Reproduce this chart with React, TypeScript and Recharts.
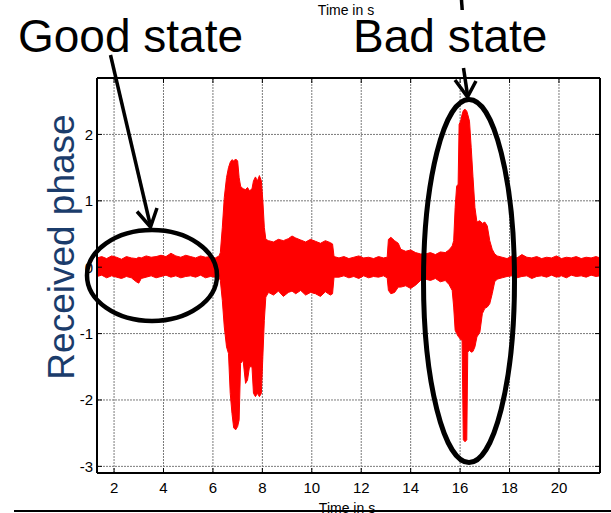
import React from 'react';
import { ComposedChart, Area, XAxis, YAxis, CartesianGrid, ReferenceLine } from 'recharts';

// Envelope of the received-phase trace (time in s, upper / lower edge)
const time = [
  1.31, 1.5, 1.7, 1.9, 2.1, 2.3, 2.5, 2.7, 2.9, 3.0, 3.1, 3.3, 3.5, 3.7, 3.9, 4.1, 4.3, 4.5, 4.7, 4.9, 5.1, 5.3, 5.5, 5.7, 5.9, 6.1, 6.25,
  6.30, 6.38, 6.46, 6.55, 6.63, 6.70, 6.77, 6.84, 6.92, 7.00, 7.06, 7.12, 7.22, 7.32, 7.40, 7.48, 7.58, 7.64, 7.72, 7.80, 7.88, 7.96, 8.02, 8.08, 8.14,
  8.25, 8.45, 8.65, 8.85, 9.05, 9.2, 9.35, 9.55, 9.75, 9.95, 10.15, 10.35, 10.55, 10.75, 10.84, 10.9,
  11.1, 11.3, 11.5, 11.7, 11.9, 12.1, 12.3, 12.5, 12.7, 12.9, 13.05,
  13.1, 13.2, 13.35, 13.5, 13.6, 13.8, 14.0, 14.2, 14.4,
  14.6, 14.8, 15.0, 15.2, 15.4, 15.55, 15.68,
  15.74, 15.80, 15.86, 15.92, 15.96, 16.02, 16.08, 16.13, 16.20, 16.27, 16.31, 16.38, 16.45, 16.52, 16.60, 16.68, 16.80, 16.90, 17.00, 17.10, 17.20, 17.30, 17.40, 17.50,
  17.7, 17.9, 18.1, 18.3, 18.5, 18.7, 18.9, 19.1, 19.3, 19.5, 19.7, 19.9, 20.1, 20.3, 20.5, 20.7, 20.9, 21.1, 21.3, 21.5, 21.66,
];
const upper = [
  0.14, 0.16, 0.13, 0.17, 0.15, 0.12, 0.16, 0.14, 0.13, 0.15, 0.14, 0.17, 0.15, 0.16, 0.18, 0.16, 0.21, 0.17, 0.15, 0.18, 0.16, 0.14, 0.17, 0.15, 0.16, 0.14, 0.17,
  0.22, 0.6, 1.05, 1.35, 1.5, 1.58, 1.62, 1.6, 1.63, 1.6, 1.35, 1.22, 1.18, 1.17, 1.2, 1.15, 1.18, 1.3, 1.36, 1.3, 1.38, 1.3, 1.0, 0.6, 0.42,
  0.4, 0.38, 0.42, 0.4, 0.43, 0.47, 0.44, 0.41, 0.38, 0.42, 0.39, 0.36, 0.4, 0.37, 0.35, 0.16,
  0.14, 0.16, 0.13, 0.15, 0.17, 0.14, 0.15, 0.13, 0.16, 0.14, 0.15,
  0.42, 0.45, 0.4, 0.36, 0.27, 0.24, 0.26, 0.22, 0.2,
  0.2, 0.22, 0.19, 0.23, 0.22, 0.26, 0.32,
  0.4, 0.9, 1.22, 1.25, 2.15, 2.2, 2.3, 2.36, 2.38, 2.35, 2.3, 2.2, 1.8, 1.37, 0.9, 0.68, 0.7, 0.66, 0.68, 0.62, 0.4, 0.27, 0.2, 0.17,
  0.15, 0.13, 0.17, 0.14, 0.19, 0.15, 0.14, 0.16, 0.13, 0.15, 0.14, 0.17, 0.13, 0.15, 0.14, 0.16, 0.13, 0.15, 0.14, 0.16, 0.14,
];
const lower = [
  -0.14, -0.12, -0.16, -0.13, -0.15, -0.17, -0.14, -0.16, -0.22, -0.24, -0.17, -0.15, -0.13, -0.16, -0.14, -0.12, -0.15, -0.13, -0.16, -0.14, -0.13, -0.15, -0.12, -0.16, -0.14, -0.15, -0.16,
  -0.2, -0.5, -0.9, -1.2, -1.3, -1.9, -2.2, -2.42, -2.45, -2.4, -2.3, -1.45, -1.4, -1.75, -1.7, -1.5, -1.5, -1.9, -1.95, -1.9, -1.95, -1.9, -1.35, -0.8, -0.45,
  -0.38, -0.42, -0.36, -0.44, -0.38, -0.36, -0.4, -0.35, -0.42, -0.38, -0.4, -0.44, -0.37, -0.42, -0.4, -0.15,
  -0.15, -0.13, -0.16, -0.14, -0.17, -0.13, -0.16, -0.14, -0.15, -0.13, -0.16,
  -0.35, -0.4, -0.38, -0.3, -0.3, -0.28, -0.32, -0.27, -0.2,
  -0.18, -0.2, -0.17, -0.22, -0.2, -0.26, -0.35,
  -0.6, -0.95, -1.0, -1.04, -1.06, -1.09, -1.1, -2.6, -2.63, -2.6, -1.28, -1.25, -1.28, -1.27, -1.2, -1.05, -0.98, -0.7, -0.62, -0.6, -0.55, -0.4, -0.22, -0.18,
  -0.16, -0.14, -0.13, -0.16, -0.14, -0.13, -0.17, -0.14, -0.13, -0.15, -0.12, -0.15, -0.13, -0.16, -0.12, -0.14, -0.13, -0.15, -0.12, -0.14, -0.13,
];

const xTicks = [2, 4, 6, 8, 10, 12, 14, 16, 18, 20];
const yTicks = [-3, -2, -1, 0, 1, 2];
const X_DOMAIN: [number, number] = [1.31, 21.66];
const Y_DOMAIN: [number, number] = [-3.1, 2.85];
const TICK_DX = 0.2;
const TICK_DY = 0.075;

const data = time.map((t, i) => ({ t, band: [lower[i], upper[i]] }));

const FONT = 'Liberation Sans, Arial, sans-serif';

export default function App() {
  return (
    <div style={{ position: 'absolute', left: 0, top: 0, width: 611, height: 513, background: '#fff', overflow: 'hidden' }}>
      <ComposedChart width={611} height={513} data={data} margin={{ top: 78, right: 11, bottom: 0, left: 0 }}>
        <CartesianGrid stroke="#7a7a7a" strokeDasharray="2 1" />
        <XAxis
          dataKey="t"
          type="number"
          domain={X_DOMAIN}
          ticks={xTicks}
          allowDataOverflow
          interval={0}
          height={40}
          tickSize={0}
          tickMargin={9}
          axisLine={{ stroke: '#000', strokeWidth: 2 }}
          tick={{ fill: '#000', fontSize: 15, fontFamily: FONT }}
        />
        <YAxis
          type="number"
          domain={Y_DOMAIN}
          ticks={yTicks}
          allowDataOverflow
          interval={0}
          width={97}
          tickSize={0}
          tickMargin={4}
          axisLine={{ stroke: '#000', strokeWidth: 2 }}
          tick={{ fill: '#000', fontSize: 15, fontFamily: FONT }}
        />
        <Area
          dataKey="band"
          type="linear"
          stroke="#ff0000"
          strokeWidth={1}
          fill="#ff0000"
          fillOpacity={1}
          dot={false}
          activeDot={false}
          isAnimationActive={false}
        />
        <ReferenceLine y={Y_DOMAIN[1]} stroke="#000" strokeWidth={2} />
        <ReferenceLine x={X_DOMAIN[1]} stroke="#000" strokeWidth={2} />
        {xTicks.map((t) => (
          <ReferenceLine key={'xt' + t} segment={[{ x: t, y: Y_DOMAIN[1] }, { x: t, y: Y_DOMAIN[1] - TICK_DY }]} stroke="#000" />
        ))}
        {xTicks.map((t) => (
          <ReferenceLine key={'xb' + t} segment={[{ x: t, y: Y_DOMAIN[0] }, { x: t, y: Y_DOMAIN[0] + TICK_DY }]} stroke="#000" />
        ))}
        {yTicks.map((v) => (
          <ReferenceLine key={'yl' + v} segment={[{ x: X_DOMAIN[0], y: v }, { x: X_DOMAIN[0] + TICK_DX, y: v }]} stroke="#000" />
        ))}
        {yTicks.map((v) => (
          <ReferenceLine key={'yr' + v} segment={[{ x: X_DOMAIN[1], y: v }, { x: X_DOMAIN[1] - TICK_DX, y: v }]} stroke="#000" />
        ))}
      </ComposedChart>
      <svg width={611} height={513} style={{ position: 'absolute', left: 0, top: 0, pointerEvents: 'none' }}>
        <text
          x={74}
          y={247}
          transform="rotate(-90 74 247)"
          textAnchor="middle"
          fontSize={37}
          fill="#1b3c6b"
          fontFamily={FONT}
        >
          Received phase
        </text>
        <ellipse cx={152} cy={275.5} rx={65} ry={45.5} fill="none" stroke="#000" strokeWidth={4.5} />
        <ellipse cx={469} cy={281} rx={45.5} ry={181.5} fill="none" stroke="#000" strokeWidth={5} />
        <g stroke="#000" strokeWidth={3.5} fill="none" strokeLinejoin="miter">
          <path d="M110.5 55 L150.5 226" />
          <path d="M137 211.5 L150.5 227 L157 208" />
          <path d="M461.5 0 L462.2 10" />
          <path d="M463.5 68 L467.5 95" />
          <path d="M455 80 L467.5 97 L476 81" />
        </g>
        <text x={18} y={52} fontSize={46} fill="#000" fontFamily={FONT}>Good state</text>
        <text x={353} y={52} fontSize={46} fill="#000" fontFamily={FONT}>Bad state</text>
        <text x={346} y={15} fontSize={14} fill="#000" textAnchor="middle" fontFamily={FONT}>Time in s</text>
        <text x={347} y={512.5} fontSize={14} fill="#000" textAnchor="middle" fontFamily={FONT}>Time in s</text>
        <line x1={14} y1={511} x2={611} y2={511} stroke="#000" strokeWidth={2} />
      </svg>
    </div>
  );
}
